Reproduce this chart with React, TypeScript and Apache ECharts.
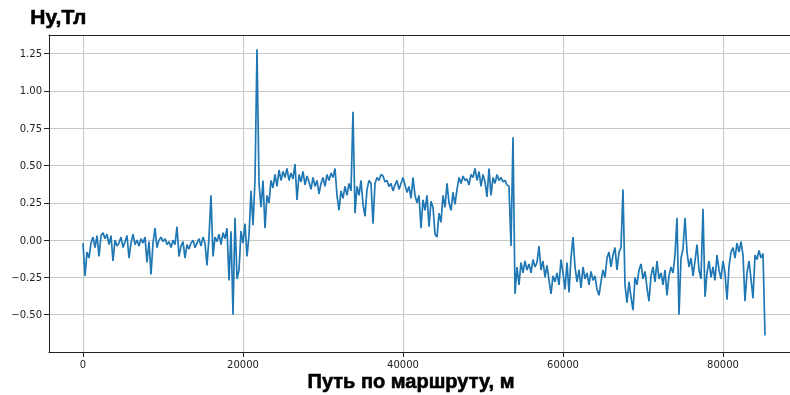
import React, { useEffect, useRef } from "react";
import * as echarts from "echarts";

// Sampling step along the route, metres
const STEP_M = 250;

// Hy, Тл, one value every STEP_M metres from 0 m
const HY = [
  -0.02, -0.24, -0.08, -0.12, -0.02, 0.02, -0.05, 0.03, -0.11, 0.03,
  0.05, 0.01, 0.04, -0.03, 0.03, -0.14, 0.0, -0.04, -0.02, 0.02,
  -0.05, -0.01, 0.03, -0.12, -0.02, 0.04, -0.03, 0.0, -0.04, 0.01,
  -0.02, 0.02, -0.15, -0.01, -0.23, -0.02, 0.08, -0.05, 0.0, 0.02,
  -0.01, 0.01, -0.03, -0.01, -0.05, 0.0, -0.03, 0.09, -0.11, -0.04,
  -0.01, -0.12, -0.03, -0.06, -0.02, 0.0, -0.05, -0.02, 0.01, -0.04,
  0.02, -0.02, -0.17, 0.02, 0.3, -0.11, 0.02, -0.01, 0.04, -0.03,
  0.05, 0.01, 0.08, -0.27, 0.06, -0.5, 0.15, -0.26, -0.2, 0.06,
  -0.02, 0.11, -0.11, 0.03, 0.33, 0.1, 0.4, 1.28, 0.38, 0.22,
  0.4, 0.08, 0.3, 0.25, 0.4, 0.35, 0.44, 0.36, 0.47, 0.4,
  0.46, 0.42, 0.48, 0.4, 0.45, 0.41, 0.51, 0.27, 0.44, 0.39,
  0.46, 0.37, 0.43, 0.39, 0.34, 0.42, 0.36, 0.4, 0.31, 0.38,
  0.42, 0.36, 0.44, 0.4, 0.45, 0.42, 0.48, 0.3, 0.2, 0.33,
  0.28, 0.36, 0.3, 0.38, 0.33, 0.86, 0.18, 0.36, 0.3, 0.4,
  0.24, 0.16, 0.34, 0.4, 0.38, 0.11, 0.38, 0.42, 0.4, 0.44,
  0.43, 0.39, 0.4, 0.36, 0.38, 0.33, 0.37, 0.4, 0.34, 0.38,
  0.42, 0.37, 0.32, 0.36, 0.28, 0.42, 0.3, 0.25, 0.3, 0.08,
  0.27, 0.2, 0.3, 0.09, 0.26, 0.22, 0.04, 0.02, 0.18, 0.12,
  0.3, 0.22, 0.38, 0.25, 0.2, 0.32, 0.24, 0.34, 0.42, 0.38,
  0.43, 0.4, 0.41, 0.37, 0.44, 0.42, 0.48, 0.4, 0.46, 0.36,
  0.44, 0.39, 0.29, 0.48, 0.3, 0.42, 0.38, 0.44, 0.4, 0.42,
  0.39, 0.4, 0.37, 0.36, -0.04, 0.69, -0.36, -0.18, -0.3, -0.15,
  -0.22, -0.14, -0.2, -0.16, -0.22, -0.13, -0.18, -0.15, -0.04, -0.2,
  -0.14, -0.25, -0.17, -0.27, -0.36, -0.24, -0.28, -0.22, -0.3, -0.13,
  -0.22, -0.33, -0.15, -0.35, -0.12, 0.02, -0.18, -0.28, -0.2, -0.32,
  -0.18, -0.26, -0.22, -0.3, -0.21, -0.27, -0.24, -0.33, -0.37, -0.28,
  -0.2, -0.25, -0.12, -0.08, -0.18, -0.1, -0.05, -0.2, -0.08, -0.05,
  0.34, -0.3, -0.42, -0.28, -0.38, -0.47, -0.25, -0.3, -0.2, -0.16,
  -0.26, -0.21, -0.32, -0.41, -0.24, -0.18, -0.28, -0.14, -0.26, -0.22,
  -0.3, -0.2, -0.37, -0.24, -0.18, -0.22, -0.1, 0.15, -0.5, -0.12,
  -0.06, 0.15, -0.08, -0.18, -0.12, -0.24, -0.14, -0.03, -0.2, -0.26,
  0.21, -0.38, -0.22, -0.14, -0.25, -0.18, -0.27, -0.1, -0.2, -0.26,
  -0.14, -0.22, -0.4, -0.18, -0.08, -0.05, -0.12, -0.02, -0.08, -0.01,
  -0.1, -0.41, -0.22, -0.14, -0.26, -0.39, -0.1, -0.13, -0.07, -0.12,
  -0.09, -0.64,
];

const X_TICKS = [0, 20000, 40000, 60000, 80000];
const Y_TICKS = [-0.5, -0.25, 0, 0.25, 0.5, 0.75, 1.0, 1.25];

const X_TITLE = "Путь по маршруту, м";
const Y_TITLE = "Hу,Тл";

export default function App() {
  const ref = useRef<HTMLDivElement>(null);

  useEffect(() => {
    if (!ref.current) return;
    const chart = echarts.init(ref.current, undefined, { renderer: "svg" });
    const data = HY.map((v, i) => [i * STEP_M, v]);
    const spine = { show: true, lineStyle: { color: "#222", width: 1 } };
    const gridLine = { show: true, lineStyle: { color: "#c8c8c8", width: 1 } };
    const labelFont = {
      fontFamily: "DejaVu Sans",
      fontSize: 10,
      color: "#222",
    };
    const titleStyle = {
      font: 'bold 20px "Liberation Sans"',
      fill: "#000",
      stroke: "#000",
      lineWidth: 0.6,
    };
    chart.setOption({
      animation: false,
      grid: { left: 49, right: 0, top: 35, bottom: 43, containLabel: false },
      xAxis: [
        {
          type: "value",
          min: -4250,
          max: 88375,
          axisLine: { ...spine, onZero: false },
          axisTick: {
            show: true,
            length: 5,
            lineStyle: { color: "#222" },
            customValues: X_TICKS,
          },
          axisLabel: {
            ...labelFont,
            margin: 7,
            customValues: X_TICKS,
            formatter: (v: number) => String(v),
          },
          splitLine: gridLine,
        },
        {
          type: "value",
          position: "top",
          min: -4250,
          max: 88375,
          axisLine: { ...spine, onZero: false },
          axisTick: { show: false },
          axisLabel: { show: false },
          splitLine: { show: false },
        },
      ],
      yAxis: {
        type: "value",
        min: -0.75,
        max: 1.375,
        axisLine: { ...spine, onZero: false },
        axisTick: {
          show: true,
          length: 5,
          lineStyle: { color: "#222" },
          customValues: Y_TICKS,
        },
        axisLabel: {
          ...labelFont,
          margin: 7,
          customValues: Y_TICKS,
          formatter: (v: number) =>
            (v < 0 ? "\u2212" : "") + Math.abs(v).toFixed(2),
        },
        splitLine: gridLine,
      },
      graphic: [
        {
          type: "text",
          left: 30,
          top: 6,
          style: { text: Y_TITLE, ...titleStyle, font: 'bold 21px "Liberation Sans"' },
        },
        {
          type: "text",
          x: 411,
          y: 381,
          style: {
            text: X_TITLE,
            ...titleStyle,
            align: "center",
            verticalAlign: "middle",
          },
        },
      ],
      series: [
        {
          type: "line",
          xAxisIndex: 0,
          data,
          showSymbol: false,
          symbol: "none",
          lineStyle: { color: "#1f77b4", width: 1.7 },
          silent: true,
        },
      ],
    });
    return () => chart.dispose();
  }, []);

  return (
    <div
      ref={ref}
      style={{ position: "fixed", left: 0, top: 0, width: 790, height: 395 }}
    />
  );
}
